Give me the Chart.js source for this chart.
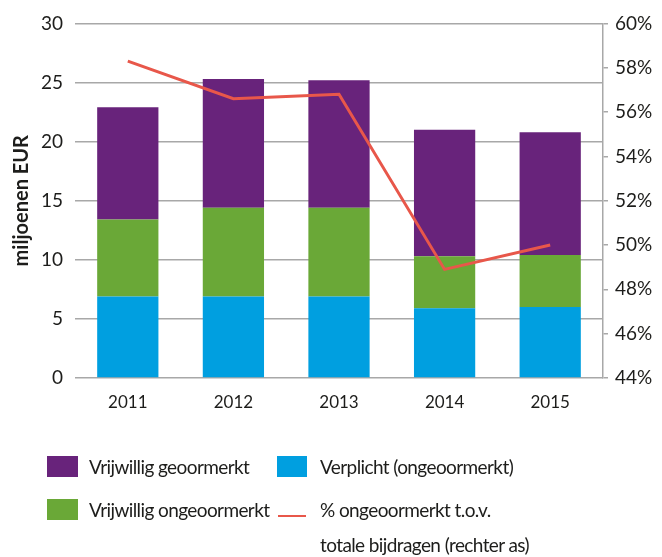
<!DOCTYPE html>
<html>
<head>
<meta charset="utf-8">
<script src="https://cdn.jsdelivr.net/npm/chart.js@4"></script>
<style>
  body { margin: 0; background: #fff; font-family: Lato, sans-serif; }
  #wrap { position: relative; width: 662px; height: 557px; }
  .lg { position: absolute; font-size: 19px; letter-spacing: -0.6px; color: #1d1d1b; white-space: nowrap; line-height: 34px; }
  .sw { position: absolute; }
</style>
</head>
<body>
<div id="wrap">
  <canvas id="chart" width="662" height="557"></canvas>

  <div class="sw" style="left:47px;top:456px;width:31px;height:21px;background:#68237b"></div>
  <div class="lg" style="left:89px;top:450px">Vrijwillig geoormerkt</div>

  <div class="sw" style="left:277px;top:456px;width:30px;height:21px;background:#009fe0"></div>
  <div class="lg" style="left:320px;top:450px">Verplicht (ongeoormerkt)</div>

  <div class="sw" style="left:47px;top:499px;width:31px;height:21px;background:#6aa837"></div>
  <div class="lg" style="left:89px;top:493px">Vrijwillig ongeoormerkt</div>

  <div class="sw" style="left:278px;top:515px;width:28px;height:2px;background:#e8574a"></div>
  <div class="lg" style="left:320px;top:493px">% ongeoormerkt t.o.v.</div>
  <div class="lg" style="left:320px;top:528px">totale bijdragen (rechter as)</div>
</div>
<script>
// data
const years = ['2011', '2012', '2013', '2014', '2015'];
const verplicht = [6.9, 6.9, 6.9, 5.9, 6.0];
const vrijwilligOngeoormerkt = [6.5, 7.5, 7.5, 4.4, 4.4];
const vrijwilligGeoormerkt = [9.5, 10.9, 10.8, 10.7, 10.4];
const pctOngeoormerkt = [58.3, 56.6, 56.8, 48.9, 50.0];

const tickFont = { family: 'Lato', size: 19 };

new Chart(document.getElementById('chart'), {
    type: 'bar',
    data: {
        labels: years,
        datasets: [
            { label: 'Verplicht (ongeoormerkt)', data: verplicht, backgroundColor: '#009fe0', order: 1 },
            { label: 'Vrijwillig ongeoormerkt', data: vrijwilligOngeoormerkt, backgroundColor: '#6aa837', order: 1 },
            { label: 'Vrijwillig geoormerkt', data: vrijwilligGeoormerkt, backgroundColor: '#68237b', order: 1 },
            {
                type: 'line',
                label: '% ongeoormerkt t.o.v. totale bijdragen (rechter as)',
                data: pctOngeoormerkt,
                yAxisID: 'y1',
                borderColor: '#e8574a',
                borderWidth: 3,
                pointRadius: 0,
                tension: 0,
                order: 0
            }
        ]
    },
    options: {
        responsive: false,
        animation: false,
        barPercentage: 0.58,
        categoryPercentage: 1,
        layout: { padding: { top: 21, left: 0, right: 0, bottom: 0 } },
        plugins: { legend: { display: false }, tooltip: { enabled: false } },
        scales: {
            x: {
                stacked: true,
                grid: { display: false },
                border: { display: false },
                ticks: { color: '#1d1d1b', font: { family: 'Lato', size: 17 }, padding: 6 },
                afterFit: s => { s.height = 557 - 378; }
            },
            y: {
                stacked: true,
                min: 0, max: 30,
                ticks: { stepSize: 5, color: '#1d1d1b', font: tickFont, padding: 12 },
                grid: { color: '#a8a8a8', lineWidth: 1.5, drawTicks: false },
                border: { display: false },
                title: { display: true, text: 'miljoenen EUR', color: '#1d1d1b', font: { family: 'Lato', size: 20, weight: 'bold' }, padding: { top: 10, bottom: 0 } },
                afterFit: s => { s.width = 75; }
            },
            y1: {
                position: 'right',
                min: 44, max: 60,
                ticks: { stepSize: 2, color: '#1d1d1b', font: tickFont, padding: 7, callback: v => v + '%' },
                grid: { drawOnChartArea: false, color: '#a8a8a8', lineWidth: 1.5, tickLength: 5 },
                border: { display: true, color: '#a8a8a8', width: 1.5 },
                afterFit: s => { s.width = 662 - 603; }
            }
        }
    }
});
</script>
</body>
</html>
